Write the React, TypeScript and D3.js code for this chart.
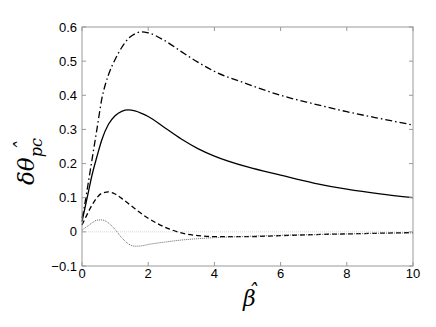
import React from 'react';
import * as d3 from 'd3';

const betaVals = [0, 0.1, 0.2, 0.3, 0.45, 0.6, 0.8, 1, 1.2, 1.4, 1.6, 1.8, 2, 2.5, 3, 3.5, 4, 5, 6, 7, 8, 9, 10];

const dashDotVals = [0.04, 0.09, 0.15, 0.21, 0.3, 0.39, 0.46, 0.505, 0.54, 0.566, 0.58, 0.586, 0.583, 0.56, 0.528, 0.497, 0.47, 0.433, 0.4, 0.375, 0.352, 0.332, 0.313];
const solidVals = [0.03, 0.075, 0.12, 0.165, 0.22, 0.27, 0.315, 0.34, 0.353, 0.357, 0.354, 0.347, 0.338, 0.305, 0.272, 0.244, 0.222, 0.19, 0.166, 0.143, 0.125, 0.111, 0.1];
const dashedVals = [0.02, 0.04, 0.06, 0.078, 0.1, 0.113, 0.117, 0.111, 0.098, 0.083, 0.068, 0.053, 0.04, 0.014, -0.003, -0.011, -0.014, -0.014, -0.011, -0.008, -0.006, -0.004, -0.002];
const dottedVals = [0.005, 0.012, 0.019, 0.026, 0.034, 0.035, 0.026, 0.007, -0.017, -0.035, -0.042, -0.041, -0.037, -0.03, -0.024, -0.02, -0.017, -0.013, -0.01, -0.008, -0.006, -0.004, -0.003];

const xTicks = [0, 2, 4, 6, 8, 10];
const yTicks = [-0.1, 0, 0.1, 0.2, 0.3, 0.4, 0.5, 0.6];

const series = [
  { name: 'dashdot', vals: dashDotVals, color: '#000', width: 1.3, dash: '7,3,1.5,3' },
  { name: 'solid', vals: solidVals, color: '#000', width: 1.3, dash: null },
  { name: 'dashed', vals: dashedVals, color: '#000', width: 1.3, dash: '5,3' },
  { name: 'dotted', vals: dottedVals, color: '#666', width: 1, dash: '1,1' },
];

export default function App() {
  const W = 436, H = 327;
  const left = 82, right = 413, top = 27, bottom = 266;

  const x = d3.scaleLinear().domain([0, 10]).range([left, right]);
  const y = d3.scaleLinear().domain([-0.1, 0.6]).range([bottom, top]);

  const line = d3.line<number>()
    .x((d, i) => x(betaVals[i]))
    .y(d => y(d))
    .curve(d3.curveMonotoneX);

  const axisColor = '#999';
  const tickFont = '"Liberation Sans", Arial, sans-serif';
  const mathFont = '"DejaVu Serif", serif';

  return (
    <svg width={W} height={H} style={{ position: 'absolute', left: 0, top: 0, background: '#fff' }}>
      {/* zero line */}
      <line x1={left} x2={right} y1={y(0)} y2={y(0)} stroke="#ccc" strokeWidth={0.8} strokeDasharray="1,1" />

      {series.map(s => (
        <path key={s.name} d={line(s.vals) || ''} fill="none" stroke={s.color}
          strokeWidth={s.width} strokeDasharray={s.dash || undefined} />
      ))}

      {/* frame */}
      <rect x={left} y={top} width={right - left} height={bottom - top} fill="none" stroke={axisColor} strokeWidth={1} />

      {xTicks.map(t => (
        <g key={'x' + t}>
          <line x1={x(t)} x2={x(t)} y1={bottom} y2={bottom - 4} stroke={axisColor} />
          <line x1={x(t)} x2={x(t)} y1={top} y2={top + 4} stroke={axisColor} />
          <text x={x(t)} y={278} textAnchor="middle" fontFamily={tickFont} fontSize={13} fill="#000">{t}</text>
        </g>
      ))}

      {yTicks.map(t => (
        <g key={'y' + t}>
          <line x1={left} x2={left + 4} y1={y(t)} y2={y(t)} stroke={axisColor} />
          <line x1={right} x2={right - 4} y1={y(t)} y2={y(t)} stroke={axisColor} />
          <text x={77} y={y(t)} dy="0.35em" textAnchor="end" fontFamily={tickFont} fontSize={13} fill="#000">
            {Math.abs(t) < 1e-9 ? '0' : d3.format('.1f')(t)}
          </text>
        </g>
      ))}

      {/* y label, rotated */}
      <g transform="translate(34,154) rotate(-90)" fontFamily={mathFont} fontStyle="italic" fill="#000">
        <text x={-31} y={0} fontSize={23}>
          δθ<tspan fontSize={16} dy={8}>pc</tspan>
        </text>
        <text x={8} y={-4} fontSize={20} textAnchor="middle">ˆ</text>
      </g>

      {/* x label */}
      <text x={243} y={306} fontFamily={mathFont} fontStyle="italic" fontSize={22} fill="#000">
        β<tspan dx={-8} dy={-7} fontSize={20}>ˆ</tspan>
      </text>
    </svg>
  );
}
